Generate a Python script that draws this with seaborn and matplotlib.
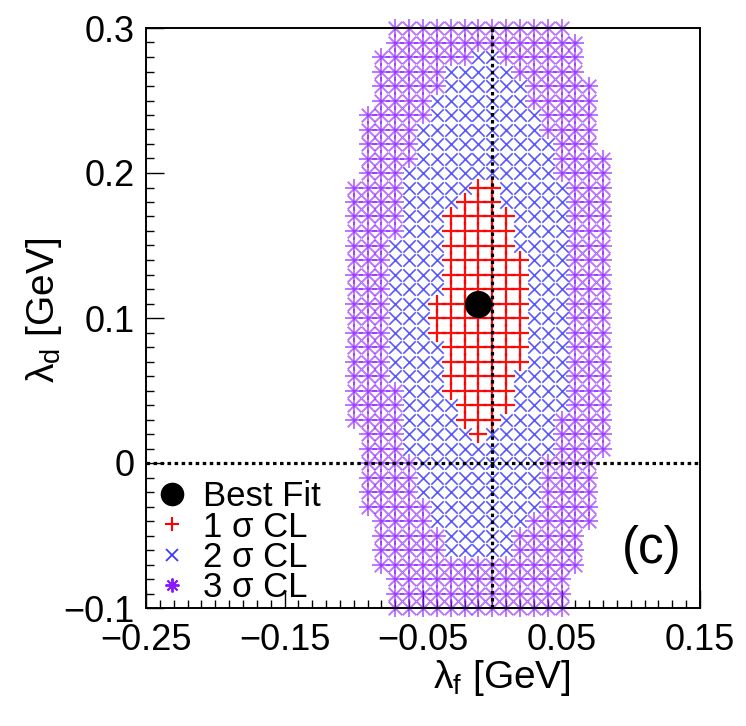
import numpy as np
import pandas as pd
import matplotlib
matplotlib.use("Agg")
import matplotlib.pyplot as plt
from matplotlib.lines import Line2D
from matplotlib.ticker import FixedLocator, MultipleLocator
import seaborn as sns

sns.set_style("white")
plt.rcParams['font.family'] = ['Liberation Sans', 'DejaVu Sans']
plt.rcParams['mathtext.fontset'] = 'custom'
plt.rcParams['mathtext.rm'] = 'Liberation Sans'
plt.rcParams['mathtext.it'] = 'Liberation Sans:italic'
for key in ['text.color', 'axes.labelcolor', 'xtick.color', 'ytick.color']:
    plt.rcParams[key] = 'black'

# ---- data (grid scan, step 0.01 GeV) ----
grid_step = 0.01
row_lambda_d = [0.30, 0.29, 0.28, 0.27, 0.26, 0.25, 0.24, 0.23, 0.22, 0.21,
                0.20, 0.19, 0.18, 0.17, 0.16, 0.15, 0.14, 0.13, 0.12, 0.11,
                0.10, 0.09, 0.08, 0.07, 0.06, 0.05, 0.04, 0.03, 0.02, 0.01,
                0.00, -0.01, -0.02, -0.03, -0.04, -0.05, -0.06, -0.07, -0.08, -0.09, -0.10]
# 3 sigma region: lambda_f extent per row
cl3_lo = [-0.07, -0.07, -0.08, -0.08, -0.08, -0.08, -0.09, -0.09, -0.09, -0.09,
          -0.09, -0.10, -0.10, -0.10, -0.10, -0.10, -0.10, -0.10, -0.10, -0.10,
          -0.10, -0.10, -0.10, -0.10, -0.10, -0.10, -0.10, -0.10, -0.09, -0.09,
          -0.09, -0.09, -0.09, -0.09, -0.08, -0.08, -0.08, -0.08, -0.07, -0.07, -0.07]
cl3_hi = [0.05, 0.06, 0.06, 0.06, 0.07, 0.07, 0.07, 0.07, 0.07, 0.08,
          0.08, 0.08, 0.08, 0.08, 0.08, 0.08, 0.08, 0.08, 0.08, 0.08,
          0.08, 0.08, 0.08, 0.08, 0.08, 0.08, 0.08, 0.08, 0.08, 0.08,
          0.07, 0.07, 0.07, 0.07, 0.07, 0.06, 0.06, 0.06, 0.05, 0.05, 0.05]
# 2 sigma region (None = no point in that row)
cl2_lo = [None, None, -0.01, -0.03, -0.03, -0.04, -0.04, -0.05, -0.05, -0.05,
          -0.06, -0.06, -0.06, -0.06, -0.06, -0.07, -0.07, -0.07, -0.07, -0.07,
          -0.07, -0.07, -0.07, -0.07, -0.07, -0.06, -0.06, -0.06, -0.06, -0.06,
          -0.05, -0.05, -0.05, -0.04, -0.04, -0.03, -0.03, None, None, None, None]
cl2_hi = [None, None, 0.00, 0.01, 0.02, 0.02, 0.03, 0.03, 0.04, 0.04,
          0.04, 0.05, 0.05, 0.05, 0.05, 0.05, 0.05, 0.05, 0.05, 0.05,
          0.05, 0.05, 0.05, 0.05, 0.05, 0.05, 0.05, 0.04, 0.04, 0.04,
          0.03, 0.03, 0.03, 0.03, 0.02, 0.01, 0.01, None, None, None, None]
# 1 sigma region
cl1_lo = [None] * 11 + [-0.01, -0.02, -0.03, -0.03, -0.03, -0.03, -0.03, -0.03, -0.04,
                        -0.04, -0.04, -0.03, -0.03, -0.03, -0.03, -0.02, -0.02, -0.01] + [None] * 12
cl1_hi = [None] * 11 + [0.00, 0.00, 0.01, 0.01, 0.01, 0.02, 0.02, 0.02, 0.02,
                        0.02, 0.02, 0.02, 0.02, 0.01, 0.01, 0.01, 0.00, -0.01] + [None] * 12
best_fit_f = [-0.01]
best_fit_d = [0.11]

x_ticks = [-0.25, -0.15, -0.05, 0.05, 0.15]
x_ticklabels = ["\u22120.25", "\u22120.15", "\u22120.05", "0.05", "0.15"]
y_ticks = [-0.1, 0.0, 0.1, 0.2, 0.3]
y_ticklabels = ["\u22120.1", "0", "0.1", "0.2", "0.3"]

# ---- build the scan table from the row extents ----
recs = []
for yd, lo3, hi3, lo2, hi2, lo1, hi1 in zip(row_lambda_d, cl3_lo, cl3_hi, cl2_lo, cl2_hi, cl1_lo, cl1_hi):
    for k in range(int(round(lo3 / grid_step)), int(round(hi3 / grid_step)) + 1):
        xf = k * grid_step
        if lo1 is not None and lo1 - 1e-9 <= xf <= hi1 + 1e-9:
            cl = "1"
        elif lo2 is not None and lo2 - 1e-9 <= xf <= hi2 + 1e-9:
            cl = "2"
        else:
            cl = "3"
        recs.append((xf, yd, cl))
df = pd.DataFrame(recs, columns=["lf", "ld", "cl"])

fig = plt.figure(figsize=(7.46, 7.26), dpi=100)
ax = fig.add_axes([146 / 746, 1 - 608 / 726, 554 / 746, 580 / 726])

c1, c2, c3 = "#ff0000", "#3c3cff", "#8c1aff"
d3 = df[df.cl == "3"]
# ROOT-style asterisk: a "+" and an "x" overlaid
sns.scatterplot(data=d3, x="lf", y="ld", marker="+", s=150,
                color=c3, alpha=0.6, linewidth=1.4, ax=ax, legend=False, clip_on=False, zorder=2)
sns.scatterplot(data=d3, x="lf", y="ld", marker="x", s=95,
                color=c3, alpha=0.6, linewidth=1.4, ax=ax, legend=False, clip_on=False, zorder=2)
sns.scatterplot(data=df[df.cl == "2"], x="lf", y="ld", marker="x", s=80,
                color=c2, alpha=0.85, linewidth=1.2, ax=ax, legend=False, zorder=3)
sns.scatterplot(data=df[df.cl == "1"], x="lf", y="ld", marker="+", s=150,
                color=c1, alpha=0.95, linewidth=1.6, ax=ax, legend=False, zorder=4)

ax.axvline(0, color="black", lw=2.3, ls=(0, (1.1, 1.1)), zorder=5)
ax.axhline(0, color="black", lw=2.3, ls=(0, (1.1, 1.1)), zorder=5)

sns.scatterplot(x=best_fit_f, y=best_fit_d, color="black", s=330, marker="o",
                edgecolor="black", ax=ax, legend=False, zorder=6)

ax.set_xlim(-0.25, 0.15)
ax.set_ylim(-0.1, 0.3)
ax.xaxis.set_major_locator(FixedLocator(x_ticks))
ax.set_xticklabels(x_ticklabels)
ax.yaxis.set_major_locator(FixedLocator(y_ticks))
ax.set_yticklabels(y_ticklabels)
ax.xaxis.set_minor_locator(MultipleLocator(0.01))
ax.yaxis.set_minor_locator(MultipleLocator(0.01))
ax.tick_params(which="both", direction="in", bottom=True, left=True, top=False, right=False,
               labelsize=26, width=1.0, color="black")
ax.tick_params(which="major", length=13)
ax.tick_params(which="minor", length=6)
ax.tick_params(axis="x", which="major", pad=11)
ax.tick_params(axis="y", which="major", pad=8)
for sp in ax.spines.values():
    sp.set_color("black")
    sp.set_linewidth(1.4)

ax.set_xlabel("\u03bb$_\\mathrm{f}$ [GeV]", fontsize=28)
ax.set_ylabel("\u03bb$_\\mathrm{d}$ [GeV]", fontsize=28)
ax.xaxis.label.set_va("center")
ax.yaxis.label.set_va("center")
ax.xaxis.set_label_coords((502 - 146) / 554, (608 - 678) / 580)
ax.yaxis.set_label_coords((44 - 146) / 554, (608 - 310) / 580)

handles = [
    Line2D([], [], ls="none", marker="o", color="black", markersize=16),
    Line2D([], [], ls="none", marker="+", color=c1, markersize=10, markeredgewidth=1.5),
    Line2D([], [], ls="none", marker="x", color=c2, markersize=8, markeredgewidth=1.3),
    Line2D([], [], ls="none", marker=(8, 2, 0), color=c3, markersize=10, markeredgewidth=1.4),
]
labels = ["Best Fit", "1 \u03c3 CL", "2 \u03c3 CL", "3 \u03c3 CL"]
ax.legend(handles, labels, loc="lower left", bbox_to_anchor=(0.005, -0.005), frameon=False,
          fontsize=25, handlelength=0.95, handletextpad=0.4, labelspacing=-0.08,
          borderaxespad=0.0, borderpad=0.2)

ax.text((652 - 146) / 554, (608 - 550) / 580, "(c)", transform=ax.transAxes,
        fontsize=37, ha="center", va="center")

fig.savefig("out.png", dpi=100)
